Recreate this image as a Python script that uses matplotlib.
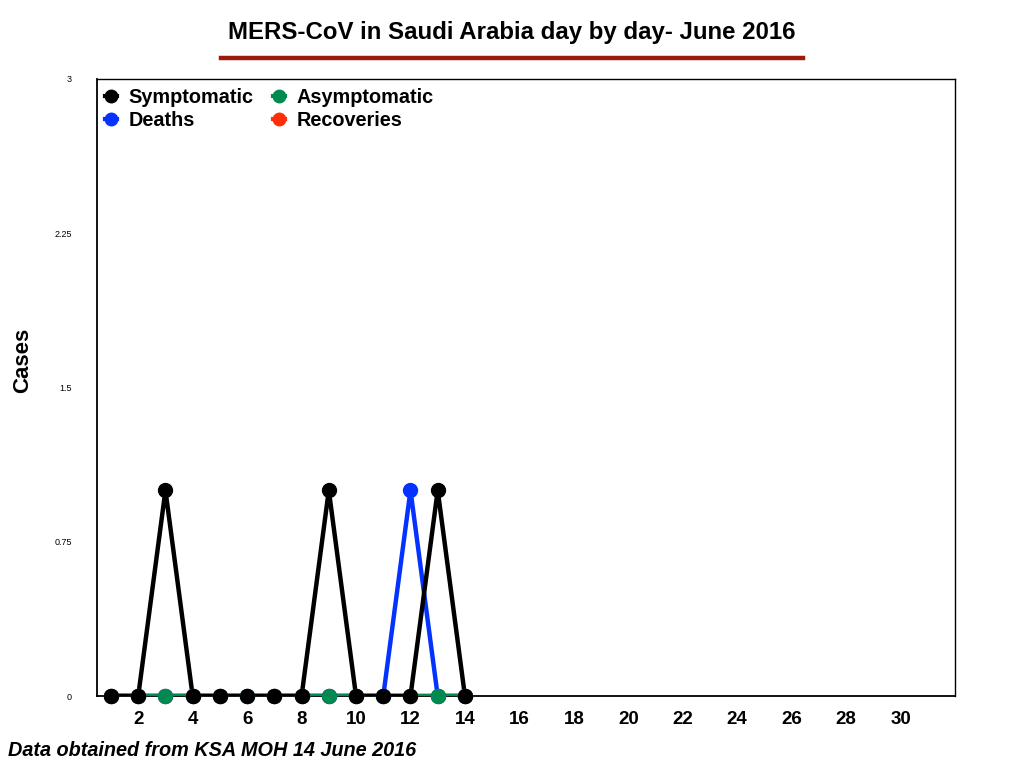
import matplotlib
matplotlib.use("Agg")
import matplotlib.pyplot as plt
from matplotlib.lines import Line2D

plt.rcParams['font.family'] = ['Liberation Sans', 'DejaVu Sans']

days = list(range(1, 15))
symptomatic = [0, 0, 1, 0, 0, 0, 0, 0, 1, 0, 0, 0, 1, 0]
asymptomatic = [0, 0, 0, 0, 0, 0, 0, 0, 0, 0, 0, 0, 0, 0]
deaths = [0, 0, 0, 0, 0, 0, 0, 0, 0, 0, 0, 1, 0, 0]
recoveries = [0, 0, 0, 0, 0, 0, 0, 0, 0, 0, 0, 0, 0, 0]
x_ticks = list(range(2, 31, 2))
y_ticks = [0, 0.75, 1.5, 2.25, 3]
y_tick_labels = ["0", "0.75", "1.5", "2.25", "3"]

C_SYM = "#000000"
C_ASY = "#008a4f"
C_DEA = "#0433ff"
C_REC = "#ff2d0a"

fig = plt.figure(figsize=(10.24, 7.68), dpi=100)
ax = fig.add_axes([97/1024, 1 - 696/768, (955 - 97)/1024, (696 - 79)/768])

series = [
    (recoveries, C_REC, "Recoveries", 2),
    (deaths, C_DEA, "Deaths", 3),
    (asymptomatic, C_ASY, "Asymptomatic", 4),
    (symptomatic, C_SYM, "Symptomatic", 5),
]
for vals, col, lab, z in series:
    ax.plot(days, vals, color=col, lw=3.2, zorder=z, solid_capstyle='round')
for vals, col, lab, z in series:
    ax.plot(days, vals, linestyle='none', marker='o', ms=10, color=col, zorder=z + 10,
            clip_on=False)

ax.set_xlim(0.486, 32.0)
ax.set_ylim(0, 3)
ax.set_xticks(x_ticks)
ax.set_xticklabels([str(t) for t in x_ticks], fontsize=13.5, fontweight='bold')
ax.set_yticks(y_ticks)
ax.set_yticklabels(y_tick_labels, fontsize=6.5)
ax.tick_params(axis='both', length=0)
ax.tick_params(axis='x', pad=11)
ax.tick_params(axis='y', pad=18)
for s in ax.spines.values():
    s.set_linewidth(1.0)
    s.set_color('black')
ax.spines['left'].set_linewidth(1.3)
ax.spines['bottom'].set_linewidth(1.3)

ax.set_ylabel("Cases", fontsize=16, fontweight='bold')
ax.yaxis.set_label_coords((33 - 97)/858, (696 - 360)/617)

handles = [
    Line2D([], [], color=C_SYM, marker='o', ms=9, lw=3),
    Line2D([], [], color=C_DEA, marker='o', ms=9, lw=3),
    Line2D([], [], color=C_ASY, marker='o', ms=9, lw=3),
    Line2D([], [], color=C_REC, marker='o', ms=9, lw=3),
]
labels = ["Symptomatic", "Deaths", "Asymptomatic", "Recoveries"]
leg = ax.legend(handles, labels, ncol=2, loc='upper left',
                bbox_to_anchor=(2/858, 1 - 3/617),
                frameon=False, handlelength=0.6, handletextpad=0.6, columnspacing=0.95,
                labelspacing=0.2, borderaxespad=0.0, borderpad=0.3,
                prop={'family': 'Liberation Sans', 'weight': 'bold', 'size': 14.3})

fig.text(512/1024, 1 - 32/768, "MERS-CoV in Saudi Arabia day by day- June 2016",
         ha='center', va='center', fontsize=17.3, fontweight='bold')
fig.add_artist(Line2D([221/1024, 803/1024], [1 - 58/768, 1 - 58/768],
                      color='#9b1a0e', lw=3.2, transform=fig.transFigure))
fig.text(8/1024, 1 - 751/768, "Data obtained from KSA MOH 14 June 2016",
         ha='left', va='center', fontsize=14.3, fontweight='bold', fontstyle='italic')

fig.savefig("out.png", dpi=100, facecolor='white')
